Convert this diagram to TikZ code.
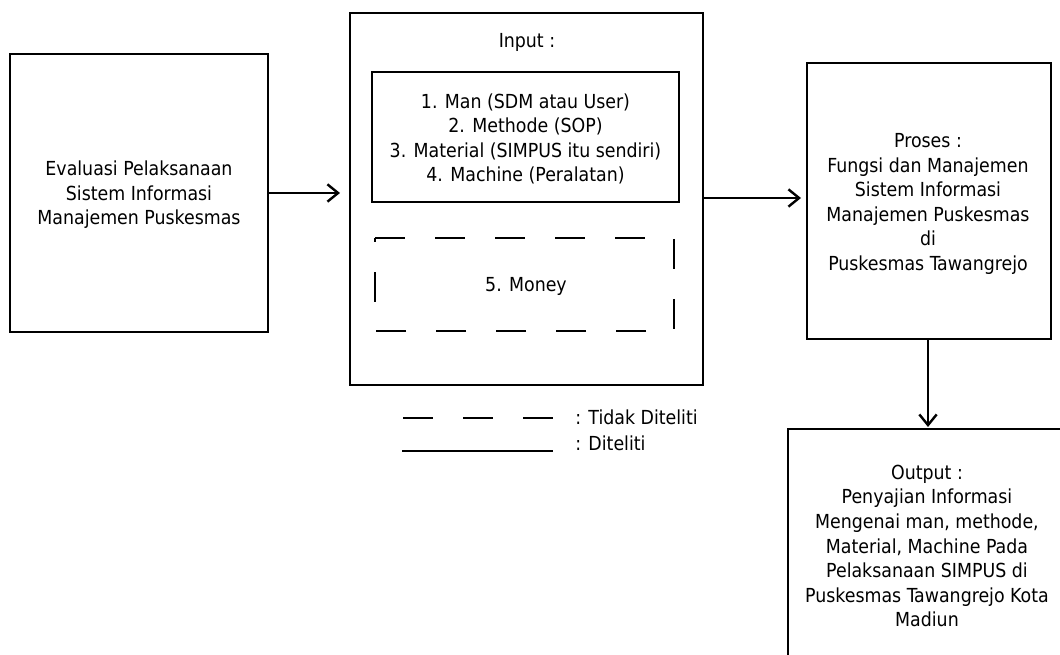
\documentclass[tikz,border=0pt]{standalone}
\usepackage{fontspec}
\setmainfont{DejaVu Sans Condensed}
\usetikzlibrary{arrows.meta}
\begin{document}
\begin{tikzpicture}[x=0.75pt,y=-0.75pt,
  box/.style={draw,line width=1.8pt,inner sep=0pt,outer sep=0pt},
  ghost/.style={inner sep=0pt,outer sep=0pt},
  txt/.style={align=center,inner sep=0pt,font=\fontsize{14.5pt}{18.4pt}\selectfont},
  conn/.style={line width=1.8pt,-{Straight Barb[length=8pt,width=13pt,line width=1.8pt]}},
  dashline/.style={line width=1.8pt,dash pattern=on 22.5pt off 22.5pt},
  solidline/.style={line width=1.8pt}
]
\useasboundingbox (0,0) rectangle (1060,655);
\clip (0,0) rectangle (1060,655);
% boxes
\node[box,minimum width={258*0.75pt},minimum height={278*0.75pt}] (eval) at (139,193) {};
\node[box,minimum width={353*0.75pt},minimum height={372*0.75pt}] (input) at (526.5,199) {};
\node[box,minimum width={307*0.75pt},minimum height={130*0.75pt}] (inner) at (525.5,137) {};
\node[ghost,minimum width={299*0.75pt},minimum height={93*0.75pt}] (money) at (524.5,284.5) {};
\draw[dashline] (money.north west) -- (money.north east) -- (money.south east) -- (money.south west) -- cycle;
\node[box,minimum width={244*0.75pt},minimum height={276*0.75pt}] (proses) at (929,201) {};
\node[box,minimum width={300*0.75pt},minimum height={260*0.75pt}] (output) at (938,559) {};
% texts
\node[txt] (evaltxt) at (139,195) {Evaluasi Pelaksanaan\\Sistem Informasi\\Manajemen Puskesmas};
\node[txt] (inputtxt) at (527,42) {Input :};
\node[txt] (innertxt) at (525.5,139) {1. Man (SDM atau User)\\2. Methode (SOP)\\3. Material (SIMPUS itu sendiri)\\4. Machine (Peralatan)};
\node[txt] (moneytxt) at (526,286) {5. Money};
\node[txt] (prosestxt) at (928,204) {Proses :\\Fungsi dan Manajemen\\Sistem Informasi\\Manajemen Puskesmas\\di\\Puskesmas Tawangrejo};
\node[txt] (outputtxt) at (927,546) {Output :\\Penyajian Informasi\\Mengenai man, methode,\\Material, Machine Pada\\Pelaksanaan SIMPUS di\\Puskesmas Tawangrejo Kota\\Madiun};
% connector end points
\coordinate (a2s) at (input.east |- 0,198);
\coordinate (a2e) at (a2s -| proses.west);
\coordinate (a3s) at (proses.south -| 928,0);
\coordinate (a3e) at (a3s |- output.north);
% connectors
\draw[conn,shorten >=7.5pt] (eval.east) -- (eval.east -| input.west);
\draw[conn,shorten >=4.5pt] (a2s) -- (a2e);
\draw[conn,shorten >=1.5pt] (a3s) -- (a3e);
% legend
\coordinate (d1) at (403,418);
\coordinate (d2) at (553,418);
\coordinate (s1) at (402,451);
\coordinate (s2) at (553,451);
\draw[dashline] (d1) -- (d2);
\draw[solidline] (s1) -- (s2);
\node[txt,anchor=west] (ltidak) at (575,417) {: Tidak Diteliti};
\node[txt,anchor=west] (lditeliti) at (575,443) {: Diteliti};
\end{tikzpicture}
\end{document}
